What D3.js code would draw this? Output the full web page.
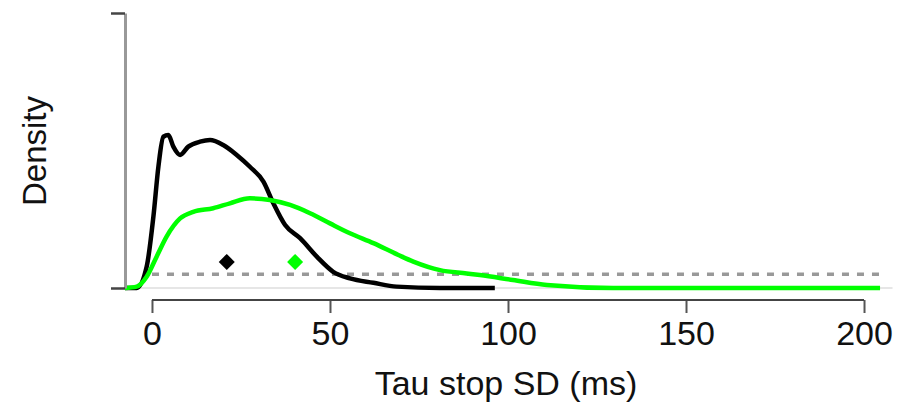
<!DOCTYPE html>
<html>
<head>
<meta charset="utf-8">
<script src="https://cdn.jsdelivr.net/npm/d3@7"></script>
<style>
  body { margin: 0; background: #fff; }
  text { font-family: "Liberation Sans", Arial, sans-serif; }
</style>
</head>
<body>
<div id="chart"></div>
<script>
// posterior density for the black group (x = ms, y = density)
const blackX = [-7.6, -4.3, -1.5, 0.4, 1.8, 3.2, 4.6, 6.0, 7.9, 10.2, 13.5, 16.3, 20.0, 23.8, 27.5, 31.3, 34.1, 37.4, 41.6, 46.3, 50.9, 55.6, 62.2, 68.7, 80.9, 96.3];
const blackY = [0, 0, 0.0077, 0.026, 0.0441, 0.055, 0.0556, 0.0514, 0.0484, 0.0514, 0.0532, 0.0538, 0.052, 0.0484, 0.0441, 0.0387, 0.0308, 0.0229, 0.0181, 0.0114, 0.0059, 0.0035, 0.0019, 0.0005, 0, 0];

// posterior density for the green group
const greenX = [-7.6, -4.3, -1.5, 1.3, 4.1, 7.9, 11.6, 17.2, 21.9, 27.5, 33.1, 38.8, 44.4, 50.0, 55.6, 62.2, 69.2, 73.4, 80.9, 88.4, 92.1, 101.4, 110.9, 129.5, 154, 204.5];
const greenY = [0, 0.0005, 0.0041, 0.0114, 0.0187, 0.0253, 0.0277, 0.029, 0.0308, 0.0326, 0.032, 0.0302, 0.0272, 0.0235, 0.0199, 0.0163, 0.012, 0.0096, 0.0065, 0.0053, 0.0047, 0.0029, 0.0011, 0, 0, 0];

// group means (diamonds), drawn at a fixed height
const meanX = [21, 40.2];
const meanColors = ["#000000", "#00ff00"];
const meanLevel = 0.0095;

// prior density (dashed) and its x range
const priorLevel = 0.005;
const priorRange = [0, 206];

const xTicks = [0, 50, 100, 150, 200];
const yTicks = [0, 0.1];

const width = 910;
const height = 404;

const x = d3.scaleLinear().domain([-8, 208]).range([123.5, 892.5]);
const y = d3.scaleLinear().domain([0, 0.1]).range([288, 13]);

const svg = d3.select("#chart")
    .append("svg")
    .attr("width", width)
    .attr("height", height);

// zero baseline
svg.append("line")
    .attr("x1", x(-8)).attr("x2", x(208))
    .attr("y1", y(0)).attr("y2", y(0))
    .attr("stroke", "#e6e6e6")
    .attr("stroke-width", 2);

// prior line
svg.append("line")
    .attr("x1", x(priorRange[0])).attr("x2", x(priorRange[1]))
    .attr("y1", y(priorLevel)).attr("y2", y(priorLevel))
    .attr("stroke", "#999")
    .attr("stroke-width", 3.5)
    .attr("stroke-dasharray", "7,8");

const line = d3.line()
    .x(d => x(d[0]))
    .y(d => y(d[1]))
    .curve(d3.curveMonotoneX);

svg.append("path")
    .datum(d3.zip(blackX, blackY))
    .attr("d", line)
    .attr("fill", "none")
    .attr("stroke", "#000")
    .attr("stroke-width", 4.5)
    .attr("stroke-linejoin", "round");

svg.append("path")
    .datum(d3.zip(greenX, greenY))
    .attr("d", line)
    .attr("fill", "none")
    .attr("stroke", "#00ff00")
    .attr("stroke-width", 4.5)
    .attr("stroke-linejoin", "round");

// mean diamonds
svg.selectAll(".mean")
    .data(meanX)
    .join("path")
    .attr("class", "mean")
    .attr("transform", d => `translate(${x(d)},${y(meanLevel)})`)
    .attr("d", "M0,-8L8,0L0,8L-8,0Z")
    .attr("fill", (d, i) => meanColors[i]);

// y axis, ticks only
const yAxis = svg.append("g")
    .attr("transform", `translate(125,0)`)
    .call(d3.axisLeft(y).tickValues(yTicks).tickFormat("").tickSize(14).tickSizeOuter(0));
yAxis.select(".domain").attr("stroke", "#999").attr("stroke-width", 3);
yAxis.selectAll(".tick line").attr("stroke", "#444").attr("stroke-width", 2.5);

// x axis
const xAxis = svg.append("g")
    .attr("transform", `translate(0,300)`)
    .call(d3.axisBottom(x).tickValues(xTicks).tickSize(13).tickPadding(8).tickSizeOuter(0));
xAxis.select(".domain").remove();
xAxis.append("line")
    .attr("x1", x(0)).attr("x2", x(200))
    .attr("stroke", "#444")
    .attr("stroke-width", 2);
xAxis.selectAll(".tick line").attr("stroke", "#555").attr("stroke-width", 2);
xAxis.selectAll(".tick text")
    .attr("font-size", 34)
    .attr("fill", "#111");

// axis titles
svg.append("text")
    .attr("x", 506)
    .attr("y", 395)
    .attr("text-anchor", "middle")
    .attr("font-size", 34)
    .attr("fill", "#111")
    .text("Tau stop SD (ms)");

svg.append("text")
    .attr("transform", "translate(46,151) rotate(-90)")
    .attr("text-anchor", "middle")
    .attr("font-size", 33)
    .attr("fill", "#111")
    .text("Density");
</script>
</body>
</html>
